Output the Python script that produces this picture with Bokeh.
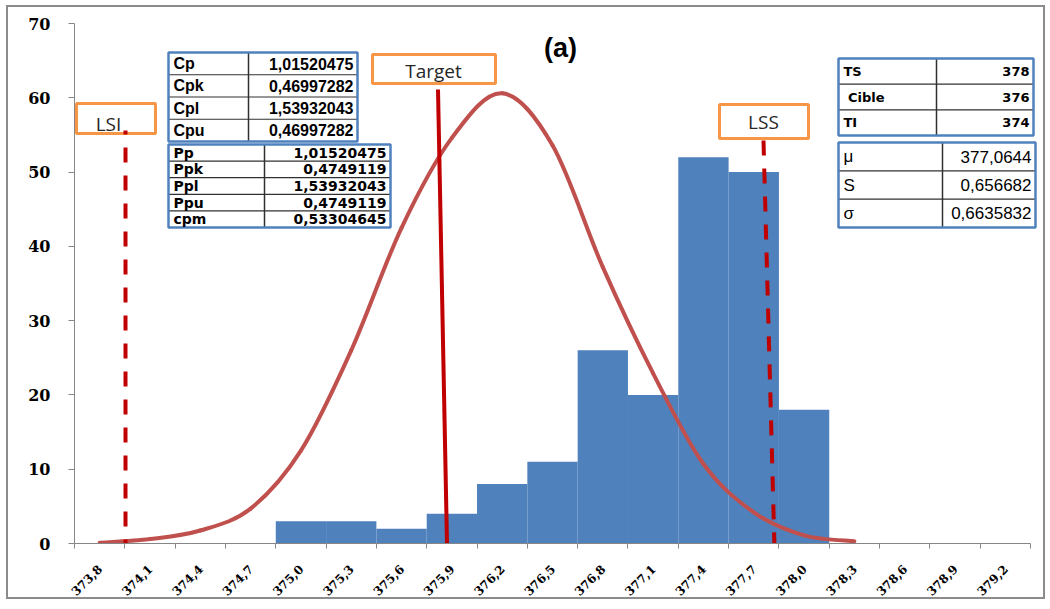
import math

from bokeh.core.properties import value
from bokeh.embed import file_html
from bokeh.models import ColumnDataSource, FixedTicker, Range1d
from bokeh.plotting import figure
from bokeh.resources import INLINE

# ---- data -----------------------------------------------------------------
# histogram classes (class centres, comma decimal) and counts per class
classes = ["373,8", "374,1", "374,4", "374,7", "375,0", "375,3", "375,6",
           "375,9", "376,2", "376,5", "376,8", "377,1", "377,4", "377,7",
           "378,0", "378,3", "378,6", "378,9", "379,2"]
counts = [0, 0, 0, 0, 3, 3, 2, 4, 8, 11, 26, 20, 52, 50, 18, 0, 0, 0, 0]

# normal curve, one value per class centre from 373,8 to 378,3
curve = [0.1, 0.6, 1.75, 4.7, 12.5, 26, 42.5, 54.6, 60.6, 53.6, 37.2,
         22.9, 10.7, 4.2, 1.1, 0.3]

y_ticks = [0, 10, 20, 30, 40, 50, 60, 70]

cap_labels = ["Cp", "Cpk", "Cpl", "Cpu"]
cap_values = ["1,01520475", "0,46997282", "1,53932043", "0,46997282"]
perf_labels = ["Pp", "Ppk", "Ppl", "Ppu", "cpm"]
perf_values = ["1,01520475", "0,4749119", "1,53932043", "0,4749119", "0,53304645"]
tol_labels = ["TS", "\u00a0Cible", "TI"]
tol_values = ["378", "376", "374"]
stat_labels = ["\u03bc", "S", "\u03c3"]
stat_values = ["377,0644", "0,656682", "0,6635832"]

# ---- layout (canvas pixels) ------------------------------------------------
W, H = 1050, 609
FX0, FX1 = 74, 1045          # frame left / right (value axis at FX0)
FY0, FY1 = 6, 543            # frame top / bottom (y = 0 line)
N_CLASSES = len(classes)
CW = (1030 - FX0) / N_CLASSES   # pixels per class
UY = (FY1 - 23) / 70.0          # pixels per count unit


def X(px):
    return (px - FX0) / CW


def Y(py):
    return (FY1 - py) / UY


p = figure(width=W, height=H,
           x_range=Range1d(0, X(FX1)), y_range=Range1d(0, Y(FY0)),
           output_backend="svg", toolbar_location=None,
           min_border_left=FX0, min_border_right=W - FX1,
           min_border_top=FY0, min_border_bottom=H - FY1)
p.xgrid.visible = False
p.ygrid.visible = False
p.outline_line_color = None
# transparent canvas; the page element underneath carries the white
# background and the thin grey frame around the chart area
p.background_fill_color = None
p.border_fill_color = None
_g = "linear-gradient(#8c8c8c, #8c8c8c)"
p.styles = {
    "background": (f"{_g} 6px 5px / 1039px 2px no-repeat, "
                   f"{_g} 6px 597px / 1039px 2px no-repeat, "
                   f"{_g} 6px 5px / 2px 594px no-repeat, "
                   f"{_g} 1043px 5px / 2px 594px no-repeat, #ffffff"),
}

AXIS_GREY = "#868686"

# x axis: labels at class centres, tick marks at class boundaries
centres = [i + 0.5 for i in range(N_CLASSES)]
xa = p.xaxis[0]
xa.ticker = FixedTicker(ticks=centres, minor_ticks=list(range(N_CLASSES + 1)))
xa.major_label_overrides = {c: lab for c, lab in zip(centres, classes)}
xa.bounds = (0, N_CLASSES)
xa.axis_line_color = AXIS_GREY
xa.major_tick_out = 0
xa.major_tick_in = 0
xa.minor_tick_out = 5
xa.minor_tick_in = 0
xa.minor_tick_line_color = AXIS_GREY
xa.major_label_orientation = math.pi / 4
xa.major_label_standoff = 18
xa.major_label_text_font = "DejaVu Serif"
xa.major_label_text_font_style = "bold"
xa.major_label_text_font_size = "12px"
xa.major_label_text_color = "black"

ya = p.yaxis[0]
ya.ticker = FixedTicker(ticks=y_ticks, minor_ticks=[])
ya.bounds = (0, 70)
ya.axis_line_color = AXIS_GREY
ya.major_tick_line_color = AXIS_GREY
ya.major_tick_out = 6
ya.major_tick_in = 0
ya.minor_tick_out = 0
ya.major_label_standoff = 18
ya.major_label_text_font = "DejaVu Serif"
ya.major_label_text_font_style = "bold"
ya.major_label_text_font_size = "16px"
ya.major_label_text_color = "black"

# ---- histogram --------------------------------------------------------------
bars = ColumnDataSource(dict(left=list(range(N_CLASSES)),
                             right=[i + 1 for i in range(N_CLASSES)],
                             top=counts))
p.quad(left="left", right="right", bottom=0, top="top", source=bars,
       fill_color="#4F81BD", line_color=None)

# ---- smoothed normal curve (Catmull-Rom through the class-centre values) ----
cx = [i + 0.5 for i in range(len(curve))]
pts = list(zip(cx, curve))
n = len(pts)
seg = dict(x0=[], y0=[], x1=[], y1=[], cx0=[], cy0=[], cx1=[], cy1=[])
for i in range(n - 1):
    a = pts[i - 1] if i > 0 else pts[i]
    b = pts[i]
    c = pts[i + 1]
    d = pts[i + 2] if i + 2 < n else pts[i + 1]
    seg["x0"].append(b[0]); seg["y0"].append(b[1])
    seg["x1"].append(c[0]); seg["y1"].append(c[1])
    seg["cx0"].append(b[0] + (c[0] - a[0]) / 6); seg["cy0"].append(b[1] + (c[1] - a[1]) / 6)
    seg["cx1"].append(c[0] - (d[0] - b[0]) / 6); seg["cy1"].append(c[1] - (d[1] - b[1]) / 6)
p.bezier(x0="x0", y0="y0", x1="x1", y1="y1", cx0="cx0", cy0="cy0",
         cx1="cx1", cy1="cy1", source=ColumnDataSource(seg),
         line_color="#C0504D", line_width=4, line_cap="round")

# ---- callout boxes ------------------------------------------------------------
ORANGE = "#F79646"
BOX_FONT = value("Open Sans")


def callout(left, right, top, bottom, text, tx, ty):
    p.quad(left=[X(left)], right=[X(right)], top=[Y(top)], bottom=[Y(bottom)],
           fill_color="white", line_color=ORANGE, line_width=3)
    p.text(x=[X(tx)], y=[Y(ty)], text=[text], text_font=BOX_FONT,
           text_font_size="19px", text_color="#262626",
           text_align="center", text_baseline="middle")


callout(76, 155, 103, 133, "LSI", 108, 123)
callout(372, 495, 54, 83, "Target", 433, 70)
callout(719, 808, 104, 138, "LSS", 763, 121)

# ---- limit / target markers ---------------------------------------------------
RED = "#C00000"
p.segment(x0=[X(125)], y0=[Y(130)], x1=[X(125)], y1=[0],
          line_color=RED, line_width=4, line_dash="15 13", line_dash_offset=11)
p.segment(x0=[X(437.5)], y0=[Y(89)], x1=[X(446.5)], y1=[0],
          line_color=RED, line_width=4)
p.segment(x0=[X(763)], y0=[Y(140)], x1=[X(774)], y1=[Y(548)],
          line_color=RED, line_width=4, line_dash="15 13")

# ---- parameter tables -----------------------------------------------------------
BLUE = "#4F81BD"


def table(left, right, top, bottom, divider, labels, values,
          font, size, style, lab_pad=5):
    rows = len(labels)
    rh = (bottom - top) / rows
    p.quad(left=[X(left)], right=[X(right)], top=[Y(top)], bottom=[Y(bottom)],
           fill_color="white", line_color=None)
    ys = [top + rh * k for k in range(1, rows)]
    p.segment(x0=[X(left)] * len(ys), y0=[Y(v) for v in ys],
              x1=[X(right)] * len(ys), y1=[Y(v) for v in ys],
              line_color="#303030", line_width=1.2)
    p.segment(x0=[X(divider)], y0=[Y(top)], x1=[X(divider)], y1=[Y(bottom)],
              line_color="#303030", line_width=1.5)
    p.quad(left=[X(left)], right=[X(right)], top=[Y(top)], bottom=[Y(bottom)],
           fill_color=None, line_color=BLUE, line_width=2.5)
    mids = [Y(top + rh * (k + 0.5)) for k in range(rows)]
    p.text(x=[X(left + lab_pad)] * rows, y=mids, text=labels,
           text_font=value(font), text_font_size=size, text_font_style=style,
           text_color="black", text_align="left", text_baseline="middle")
    p.text(x=[X(right - 4)] * rows, y=mids, text=values,
           text_font=value(font), text_font_size=size, text_font_style=style,
           text_color="black", text_align="right", text_baseline="middle")


table(168, 357, 52, 141, 248, cap_labels, cap_values,
      "Liberation Sans", "16px", "bold")
table(168, 390, 144, 227, 264, perf_labels, perf_values,
      "DejaVu Sans", "14px", "bold")
table(838, 1033, 58, 135, 936, tol_labels, tol_values,
      "DejaVu Sans", "13px", "bold")
table(838, 1035, 142, 227, 942, stat_labels, stat_values,
      "Liberation Sans", "17px", "normal")

# ---- panel title ----------------------------------------------------------------
p.text(x=[X(560)], y=[Y(47)], text=["(a)"], text_font=value("Liberation Sans"),
       text_font_size="27px", text_font_style="bold", text_color="black",
       text_align="center", text_baseline="middle")

open("out.html", "w").write(file_html(p, INLINE))
